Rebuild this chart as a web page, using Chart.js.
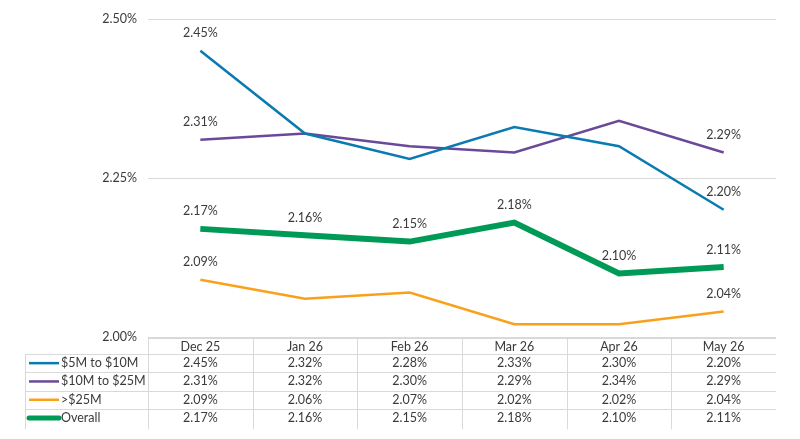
<!DOCTYPE html>
<html>
<head>
<meta charset="utf-8">
<script src="https://cdn.jsdelivr.net/npm/chart.js@4/dist/chart.umd.min.js"></script>
<style>
html,body{margin:0;padding:0;background:#fff;}
#wrap{width:800px;height:439px;position:relative;}
</style>
</head>
<body>
<div id="wrap"><canvas id="c" width="800" height="439"></canvas></div>
<script>
const categories = ["Dec 25","Jan 26","Feb 26","Mar 26","Apr 26","May 26"];
const s5to10  = [2.45, 2.32, 2.28, 2.33, 2.30, 2.20];
const s10to25 = [2.31, 2.32, 2.30, 2.29, 2.34, 2.29];
const sOver25 = [2.09, 2.06, 2.07, 2.02, 2.02, 2.04];
const sOverall= [2.17, 2.16, 2.15, 2.18, 2.10, 2.11];
const seriesNames = ["$5M to $10M","$10M to $25M",">$25M","Overall"];
const yTicks = [2.00, 2.25, 2.50];
// which points carry a data label
const labelFlags = [
  [true,false,false,false,false,true],
  [true,false,false,false,false,true],
  [true,false,false,false,false,true],
  [true,true,true,true,true,true]
];

const colors = ["#0A7BB0","#6A4A98","#F9A11B","#009A57"];
const widths = [2.5,2.5,2.5,6];
const FONT = "Lato, 'Noto Sans', sans-serif";
const TXT = "#3a3a3a";

const tablePlugin = {
  id:'tablePlugin',
  afterDraw(chart){
    const ctx = chart.ctx;
    const x = chart.scales.x;
    const area = chart.chartArea;
    const n = categories.length;
    const step = x.getPixelForValue(1) - x.getPixelForValue(0);
    const left = x.getPixelForValue(0) - step/2;
    const right = x.getPixelForValue(n-1) + step/2;
    const top = area.bottom + 1;
    const headerH = 16;
    const rowH = 18.3;
    const legLeft = 25;
    const bottom = top + headerH + rowH*4;
    ctx.save();
    ctx.strokeStyle = "#d9d9d9";
    ctx.lineWidth = 1;
    ctx.beginPath();
    ctx.moveTo(left, Math.round(top)+0.5); ctx.lineTo(right, Math.round(top)+0.5);
    for(let r=0;r<4;r++){
      const yy = Math.round(top + headerH + rowH*r)+0.5;
      ctx.moveTo(legLeft, yy); ctx.lineTo(right, yy);
    }
    ctx.stroke();
    ctx.beginPath();
    ctx.moveTo(legLeft+0.5, top+headerH); ctx.lineTo(legLeft+0.5, bottom+2);
    for(let i=0;i<n;i++){
      const xx = Math.round(left + step*i)+0.5;
      ctx.moveTo(xx, top); ctx.lineTo(xx, bottom+2);
    }
    ctx.stroke();
    ctx.fillStyle = TXT;
    ctx.font = "12.5px " + FONT;
    ctx.textAlign = "center";
    ctx.textBaseline = "middle";
    categories.forEach((c,i)=>{
      ctx.fillText(c, x.getPixelForValue(i), top + headerH/2 + 1);
    });
    chart.data.datasets.forEach((ds,r)=>{
      const cy = top + headerH + rowH*r + rowH/2;
      ctx.strokeStyle = ds.borderColor;
      ctx.lineWidth = r===3 ? 5 : 2.5;
      ctx.lineCap = r===3 ? "round" : "butt";
      ctx.beginPath();
      ctx.moveTo(29, cy); ctx.lineTo(59, cy);
      ctx.stroke();
      ctx.fillStyle = TXT;
      ctx.textAlign = "left";
      ctx.fillText(seriesNames[r], 61, cy);
      ctx.textAlign = "center";
      ds.data.forEach((v,i)=>{
        ctx.fillText(v.toFixed(2)+"%", x.getPixelForValue(i), cy);
      });
    });
    ctx.restore();
  }
};

const labelPlugin = {
  id:'labelPlugin',
  afterDatasetsDraw(chart){
    const ctx = chart.ctx;
    ctx.save();
    ctx.fillStyle = TXT;
    ctx.font = "12.5px " + FONT;
    ctx.textAlign = "center";
    ctx.textBaseline = "middle";
    chart.data.datasets.forEach((ds,d)=>{
      const meta = chart.getDatasetMeta(d);
      meta.data.forEach((pt,i)=>{
        if(labelFlags[d][i]){
          ctx.fillText(ds.data[i].toFixed(2)+"%", pt.x, pt.y - 17.5);
        }
      });
    });
    ctx.restore();
  }
};

const allSeries = [s5to10, s10to25, sOver25, sOverall];
new Chart(document.getElementById('c'), {
  type:'line',
  data:{
    labels: categories,
    datasets: allSeries.map((d,i)=>({
      label: seriesNames[i],
      data: d,
      borderColor: colors[i],
      backgroundColor: colors[i],
      borderWidth: widths[i],
      pointRadius: 0,
      tension: 0,
      fill: false,
      order: i===3 ? 0 : 1
    }))
  },
  options:{
    responsive:false,
    animation:false,
    layout:{padding:{left:0,right:24,top:19,bottom:102}},
    plugins:{legend:{display:false},tooltip:{enabled:false}},
    scales:{
      x:{display:false, offset:true},
      y:{
        min:2.0, max:2.5,
        afterFit(scale){ scale.width = 148; },
        afterBuildTicks(scale){ scale.ticks = yTicks.map(v=>({value:v})); },
        border:{display:false},
        grid:{color:"#d9d9d9", drawTicks:false, lineWidth:1},
        ticks:{
          color:TXT, padding:11,
          font:{family:FONT, size:12.5},
          callback:(v)=>Number(v).toFixed(2)+"%"
        }
      }
    }
  },
  plugins:[tablePlugin,labelPlugin]
});
</script>
</body>
</html>
